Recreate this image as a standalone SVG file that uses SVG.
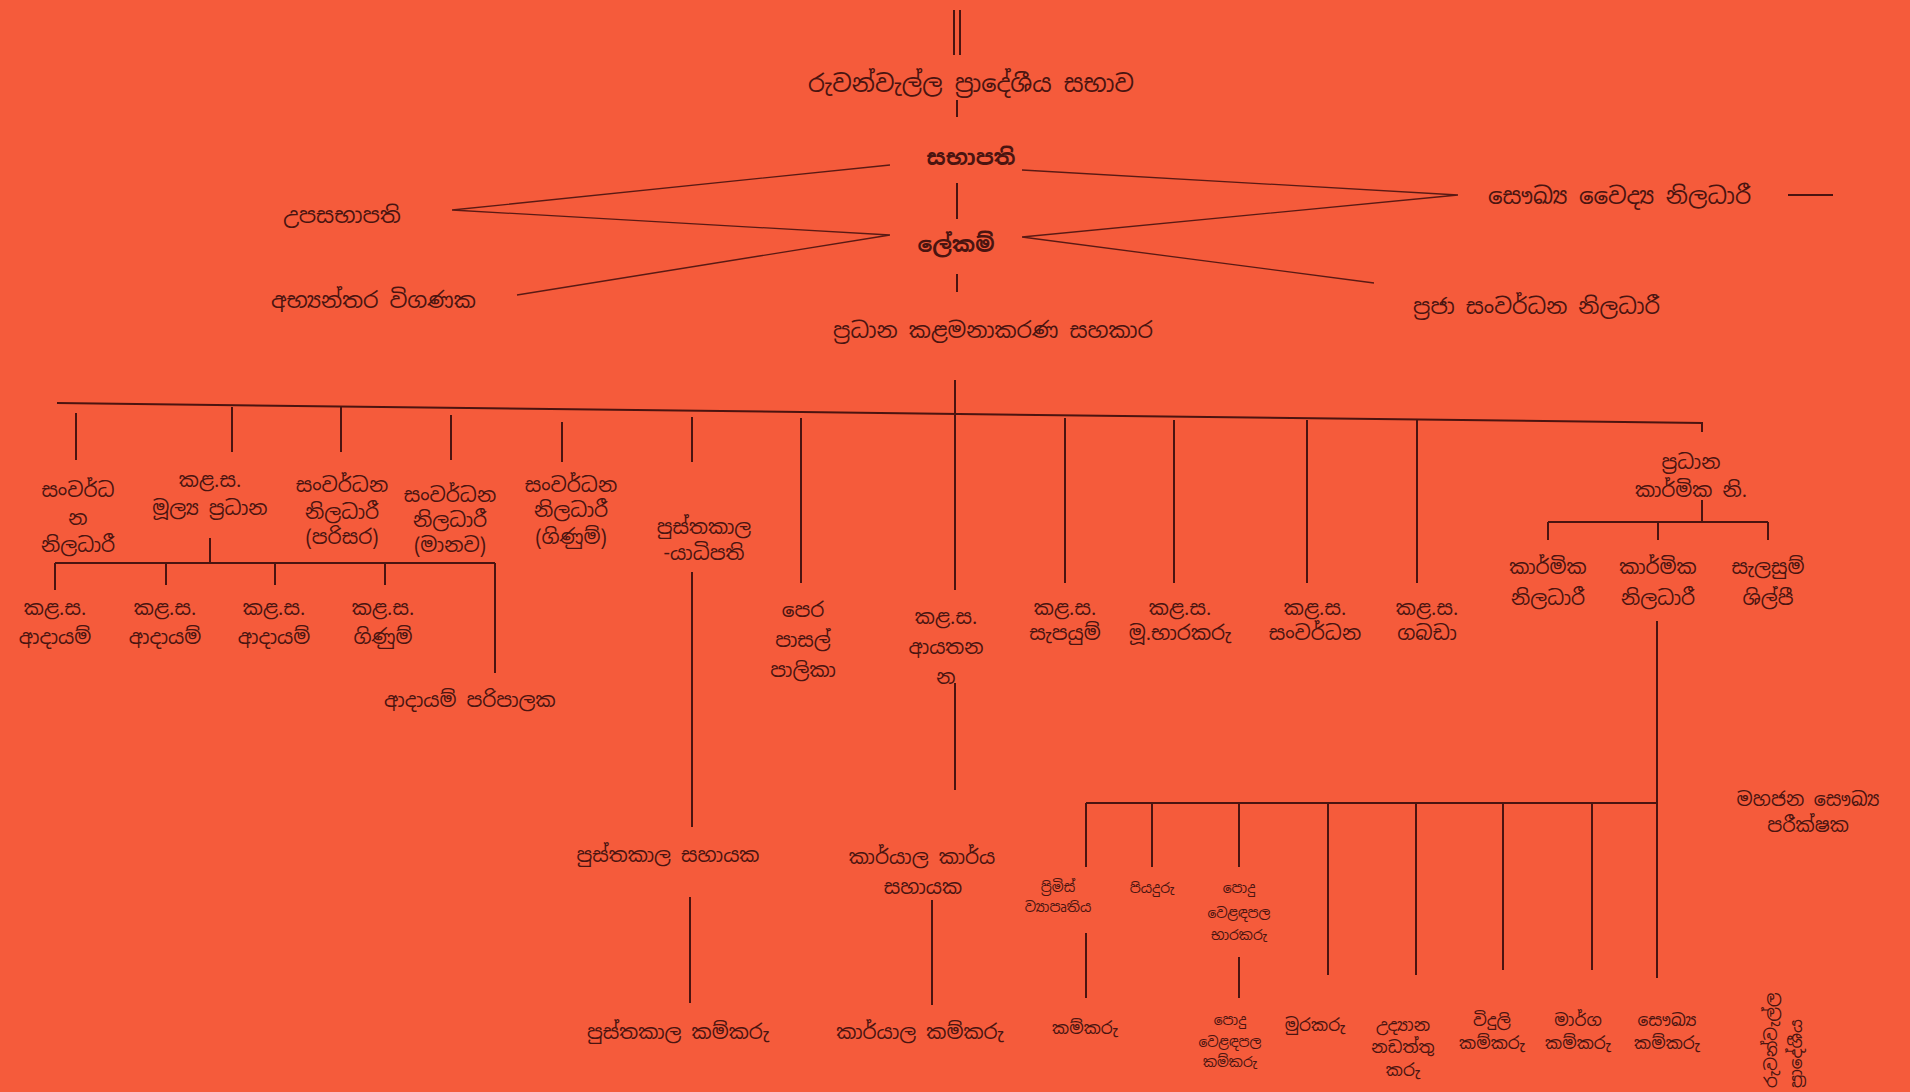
<svg xmlns="http://www.w3.org/2000/svg" width="1910" height="1092" viewBox="0 0 1910 1092">
<style>
text{font-family:"Noto Sans Sinhala","Noto Serif Sinhala","Iskoola Pota","Noto Sans",sans-serif;fill:#4a1410;text-anchor:middle}
.t1{font-size:24px}
.t2{font-size:22px}
.b{font-weight:bold}
.t3{font-size:20px}
.t4{font-size:17px}
.t5{font-size:14px}
.st{text-anchor:start}
.ln{stroke:#4a1410;stroke-width:2;fill:none;stroke-linecap:butt}
.thin{stroke:#5a1a14;stroke-width:1.3;fill:none}
</style>
<rect width="1910" height="1092" fill="#f55b3b"/>
<g id="connectors">
<path class="ln" d="M954 10V55M960 10V55M957 100V117M957 183V219M957 274V292"/>
<path class="thin" d="M452 210L890 165M452 210L890 235M517 295L890 235M1022 170L1458 195M1022 237L1458 195M1022 237L1374 283"/>
<path class="ln" d="M1788 195H1833"/>
<path class="ln" d="M57 403L1703 423M955 380V590"/>
<path class="ln" d="M76 413V460M232 407V452M341 407V452M451 415V460M562 422V462M692 417V462M801 418V583M1065 418V583M1174 420V583M1307 420V583M1417 420V583M1702 422V432"/>
<path class="ln" d="M210 538V563M55 563H495M55 563V590M166 563V585M275 563V585M385 563V585M495 563V673"/>
<path class="ln" d="M692 572V827M690 897V1003M955 683V790M932 900V1005"/>
<path class="ln" d="M1702 500V522M1548 522H1768M1548 522V540M1658 522V540M1768 522V540"/>
<path class="ln" d="M1657 621V978M1086 803H1657M1086 803V867M1152 803V867M1239 803V867M1328 803V975M1416 803V975M1503 803V970M1592 803V970M1086 933V998M1239 957V998"/>
</g>
<g id="n-sabhava"><text class="t1" x="971" y="92">රුවන්වැල්ල ප්‍රාදේශීය සභාව</text></g>
<g id="n-sabhapathi"><text class="t2 b" x="971" y="165">සභාපති</text></g>
<g id="n-lekam"><text class="t2 b" x="956" y="252">ලේකම්</text></g>
<g id="n-pradhana-kalamanakarana"><text class="t2" x="993" y="338">ප්‍රධාන කළමනාකරණ සහකාර</text></g>
<g id="n-upasabhapathi"><text class="t2" x="342" y="223">උපසභාපති</text></g>
<g id="n-abhyanthara"><text class="t2 st" x="271" y="308">අභ්‍යන්තර විගණක</text></g>
<g id="n-saukhya-vaidya"><text class="st" style="font-size:23px" x="1488" y="204">සෞඛ්‍ය වෛද්‍ය නිලධාරී</text></g>
<g id="n-praja"><text class="t2 st" x="1413" y="314">ප්‍රජා සංවර්ධන නිලධාරී</text></g>

<g id="n-b1"><text class="t3" x="78" y="497">සංවර්ධ</text><text class="t3" x="78" y="525">න</text><text class="t3" x="78" y="552">නිලධාරී</text></g>
<g id="n-b2"><text class="t3" x="210" y="487">කළ.ස.</text><text class="t3" x="210" y="515">මූල්‍ය ප්‍රධාන</text></g>
<g id="n-b3"><text class="t3" x="342" y="492">සංවර්ධන</text><text class="t3" x="342" y="519">නිලධාරී</text><text class="t3" x="342" y="544">(පරිසර)</text></g>
<g id="n-b4"><text class="t3" x="450" y="502">සංවර්ධන</text><text class="t3" x="450" y="527">නිලධාරී</text><text class="t3" x="450" y="552">(මානව)</text></g>
<g id="n-b5"><text class="t3" x="571" y="492">සංවර්ධන</text><text class="t3" x="571" y="517">නිලධාරී</text><text class="t3" x="571" y="544">(ගිණුම්)</text></g>
<g id="n-pustakaladhipathi"><text class="t3" x="704" y="534">පුස්තකාල</text><text class="t3" x="704" y="560">-යාධිපති</text></g>
<g id="n-pera-pasal"><text class="t3" x="803" y="617">පෙර</text><text class="t3" x="803" y="647">පාසල්</text><text class="t3" x="803" y="677">පාලිකා</text></g>
<g id="n-ayathana"><text class="t3" x="946" y="624">කළ.ස.</text><text class="t3" x="946" y="654">ආයතන</text><text class="t3" x="946" y="684">න</text></g>
<g id="n-sapayum"><text class="t3" x="1065" y="615">කළ.ස.</text><text class="t3" x="1065" y="640">සැපයුම්</text></g>
<g id="n-mu-bharakaru"><text class="t3" x="1180" y="615">කළ.ස.</text><text class="t3" x="1180" y="640">මූ.භාරකරු</text></g>
<g id="n-sanwardhana"><text class="t3" x="1315" y="615">කළ.ස.</text><text class="t3" x="1315" y="640">සංවර්ධන</text></g>
<g id="n-gabada"><text class="t3" x="1427" y="615">කළ.ස.</text><text class="t3" x="1427" y="640">ගබඩා</text></g>
<g id="n-pradhana-karmika"><text class="t3" x="1691" y="469">ප්‍රධාන</text><text class="t3" x="1691" y="497">කාර්මික නි.</text></g>
<g id="n-karmika1"><text class="t3" x="1548" y="574">කාර්මික</text><text class="t3" x="1548" y="605">නිලධාරී</text></g>
<g id="n-karmika2"><text class="t3" x="1658" y="574">කාර්මික</text><text class="t3" x="1658" y="605">නිලධාරී</text></g>
<g id="n-salasum"><text class="t3" x="1768" y="574">සැලසුම්</text><text class="t3" x="1768" y="605">ශිල්පී</text></g>

<g id="n-adayam1"><text class="t3" x="55" y="615">කළ.ස.</text><text class="t3" x="55" y="644">ආදායම්</text></g>
<g id="n-adayam2"><text class="t3" x="165" y="615">කළ.ස.</text><text class="t3" x="165" y="644">ආදායම්</text></g>
<g id="n-adayam3"><text class="t3" x="274" y="615">කළ.ස.</text><text class="t3" x="274" y="644">ආදායම්</text></g>
<g id="n-ginum"><text class="t3" x="383" y="615">කළ.ස.</text><text class="t3" x="383" y="644">ගිණුම්</text></g>
<g id="n-adayam-paripalaka"><text class="t3 st" x="384" y="707">ආදායම් පරිපාලක</text></g>

<g id="n-pustakala-sahayaka"><text class="t3" x="668" y="862">පුස්තකාල සහායක</text></g>
<g id="n-pustakala-kamkaru"><text class="t3" x="678" y="1039">පුස්තකාල කම්කරු</text></g>
<g id="n-karyala-sahayaka"><text class="t3" x="922" y="864">කාර්යාල කාර්ය</text><text class="t3" x="923" y="894">සහායක</text></g>
<g id="n-karyala-kamkaru"><text class="t3" x="920" y="1039">කාර්යාල කම්කරු</text></g>

<g id="n-premis"><text class="t5" x="1058" y="892">ප්‍රිමිස්</text><text class="t5" x="1058" y="912">ව්‍යාපෘතිය</text></g>
<g id="n-piyaduru"><text class="t5" x="1152" y="893">පියදුරු</text></g>
<g id="n-podu-bharakaru"><text class="t5" x="1239" y="893">පොදු</text><text class="t5" x="1239" y="918">වෙළඳපල</text><text class="t5" x="1239" y="940">භාරකරු</text></g>
<g id="n-kamkaru"><text class="t4" x="1085" y="1034">කම්කරු</text></g>
<g id="n-podu-kamkaru"><text class="t5" x="1230" y="1025">පොදු</text><text class="t5" x="1230" y="1047">වෙළඳපල</text><text class="t5" x="1230" y="1067">කම්කරු</text></g>
<g id="n-murakaru"><text class="t4" x="1315" y="1031">මුරකරු</text></g>
<g id="n-udyana"><text class="t4" x="1403" y="1031">උද්‍යාන</text><text class="t4" x="1403" y="1053">නඩත්තු</text><text class="t4" x="1403" y="1076">කරු</text></g>
<g id="n-viduli"><text class="t4" x="1492" y="1026">විදුලි</text><text class="t4" x="1492" y="1049">කම්කරු</text></g>
<g id="n-marga"><text class="t4" x="1578" y="1026">මාර්ග</text><text class="t4" x="1578" y="1049">කම්කරු</text></g>
<g id="n-saukhya-kamkaru"><text class="t4" x="1667" y="1026">සෞඛ්‍ය</text><text class="t4" x="1667" y="1049">කම්කරු</text></g>
<g id="n-mahajana"><text style="font-size:19px" x="1808" y="806">මහජන සෞඛ්‍ය</text><text style="font-size:19px" x="1808" y="832">පරීක්ෂක</text></g>
<g id="vertical-note"><text class="st" style="font-size:17px" transform="translate(1777 1088) rotate(-90)">රුවන්වැල්ල</text><text class="st" style="font-size:17px" transform="translate(1802 1088) rotate(-90)">ප්‍රාදේශීය</text></g>
</svg>
